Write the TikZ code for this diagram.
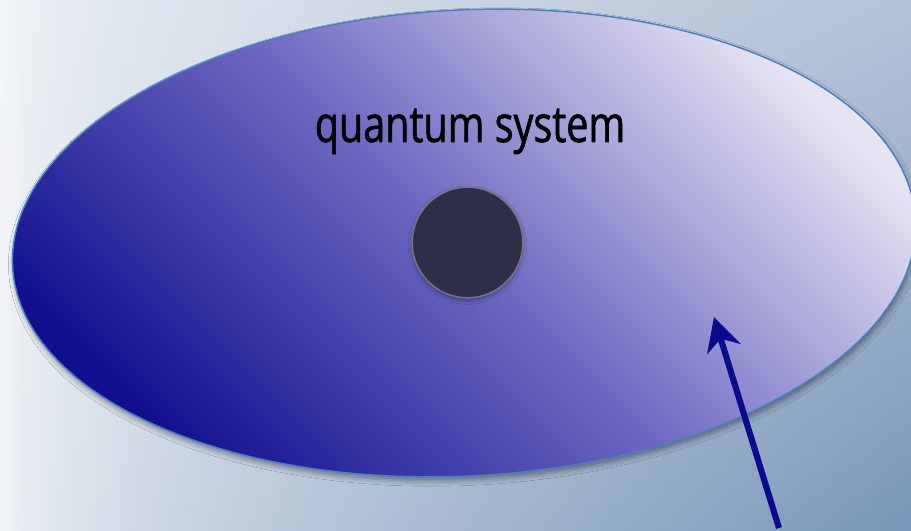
\documentclass[tikz,border=0pt]{standalone}
\usepackage{fontspec}
\newfontfamily\labelfont[FakeStretch=0.78,FakeBold=1.2]{Open Sans}
\usetikzlibrary{shapes.geometric,arrows.meta,shadows.blur}
\definecolor{bgL}{HTML}{F3F5F8}
\definecolor{bgTR}{HTML}{B3C3D7}
\definecolor{bgBR}{HTML}{7896B8}
\definecolor{ellDark}{HTML}{10108E}
\definecolor{ellMid}{HTML}{6E6AC2}
\definecolor{ellLight}{HTML}{E6E4F3}
\definecolor{ellEdge}{HTML}{4A80C2}
\definecolor{dotFill}{HTML}{2E2E48}
\definecolor{dotEdge}{HTML}{76767E}
\definecolor{arrowBlue}{HTML}{0A0A8C}
\begin{document}
\begin{tikzpicture}[x=0.75pt,y=-0.75pt,
  systemshape/.style={ellipse, inner sep=0pt, outer sep=0pt,
    minimum width=678pt, minimum height=349.5pt,
    draw=ellEdge, line width=1.1pt,
    top color=ellLight, bottom color=ellDark, middle color=ellMid, shading angle=-45,
    blur shadow={shadow xshift=1pt, shadow yshift=-3pt, shadow blur radius=4pt, shadow opacity=40}},
  coreshape/.style={circle, inner sep=0pt, minimum size=83pt,
    fill=dotFill, draw=dotEdge, line width=1.1pt,
    blur shadow={shadow xshift=0pt, shadow yshift=-2pt, shadow blur radius=3pt, shadow opacity=35}},
  labeltext/.style={anchor=base, inner sep=0pt, font=\labelfont\fontsize{38}{40}\selectfont, text=black},
  pointer/.style={draw=arrowBlue, line width=4.6pt, -{Stealth[length=25pt,width=26pt,inset=8pt]}}
]
\useasboundingbox (0,0) rectangle (911,531);
\foreach \i in {0,...,182}{
  \pgfmathtruncatemacro\p{100*((\i+0.5)/183)^0.65}
  \fill[top color=bgTR!\p!bgL, bottom color=bgBR!\p!bgL] (\i*5,0) rectangle (\i*5+5.6,531);
}
\node[systemshape, rotate=3] (system) at (464,243) {};
\node[coreshape] (core) at (467.5,242.5) {};
\node[labeltext] (label) at (470,142) {quantum system};
\coordinate (tail) at (779,528);
\coordinate (tip) at (714,317);
\draw[pointer] (tail) -- (tip);
\end{tikzpicture}
\end{document}
